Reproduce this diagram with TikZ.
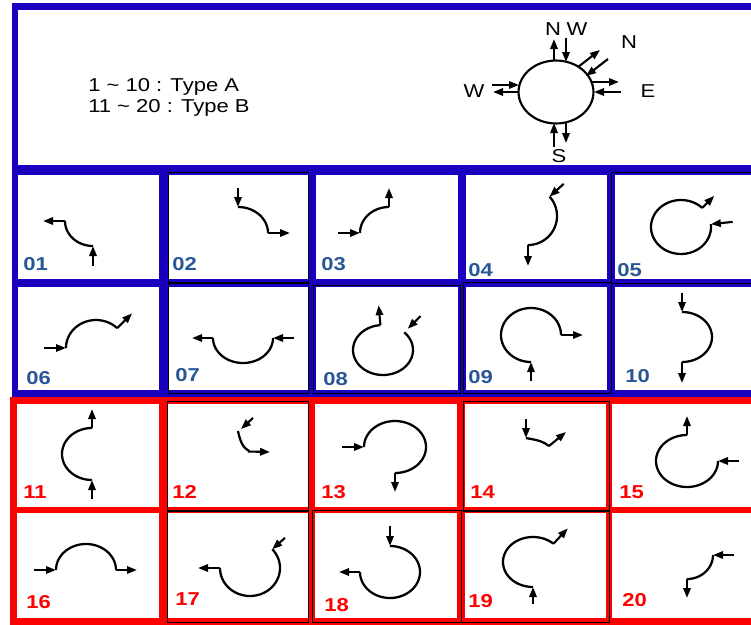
\documentclass[tikz,border=0pt]{standalone}
\usepackage{fontspec}
\setmainfont{Liberation Sans}[FakeStretch=1.18]
\usetikzlibrary{arrows.meta}
\definecolor{bordblue}{RGB}{24,0,190}
\definecolor{labblue}{RGB}{40,86,150}
\definecolor{labred}{RGB}{255,0,0}
\newcommand\glyph[9]{%
  \draw[garc] plot[domain=#5:#6, samples=60, smooth] ({#1+#3*cos(\x)},{#2+#4*sin(\x)});
  \draw[garrow] ({#1+(#3+#9+#7)*cos(#5)},{#2+(#4+#9+#7)*sin(#5)}) -- ({#1+(#3+#9)*cos(#5)},{#2+(#4+#9)*sin(#5)});
  \draw[garrow] ({#1+#3*cos(#6)},{#2+#4*sin(#6)}) -- ({#1+(#3+#8)*cos(#6)},{#2+(#4+#8)*sin(#6)});
}
\begin{document}
\begin{tikzpicture}[x=0.75pt,y=-0.75pt,
  garc/.style={line width=1.7pt},
  garrow/.style={line width=1.6pt,-{Triangle[length=7.5pt,width=5.5pt]}},
  numblue/.style={anchor=base west,inner sep=0pt,text=labblue,font=\bfseries\fontsize{14}{14}\selectfont},
  numred/.style={anchor=base west,inner sep=0pt,text=labred,font=\bfseries\fontsize{14}{14}\selectfont},
  hdr/.style={anchor=base west,inner sep=0pt,font=\fontsize{14}{14}\selectfont},
  cmp/.style={anchor=base,inner sep=0pt,font=\fontsize{14}{14}\selectfont},
  thinbox/.style={draw=black,line width=0.5pt}]
\useasboundingbox (0,0) rectangle (751,625);
% header frame
\fill[bordblue] (12,3) rectangle (751,175);
\fill[white] (18,10) rectangle (751,165);
% blue grid
\fill[bordblue] (12,165) rectangle (751,397);
\foreach \xa/\xb in {18/159,168/309,316/458,466/607,615/751}{
  \fill[white] (\xa,175) rectangle (\xb,279);
  \fill[white] (\xa,287) rectangle (\xb,390);
}
% red grid
\fill[labred] (10,397) rectangle (751,625);
\foreach \xa/\xb in {17/159,167/308,315/457,465/606,612/751}{
  \fill[white] (\xa,404) rectangle (\xb,507);
  \fill[white] (\xa,513) rectangle (\xb,618);
}
% thin black outlines
\draw[thinbox] (168,172) rectangle (308,282);
\draw[thinbox] (611,172) rectangle (760,283);
\draw[thinbox] (168,283) rectangle (308,393);
\draw[thinbox] (313,285) rectangle (460,393);
\draw[thinbox] (463,282) rectangle (611,393);
\draw[thinbox] (167,401) rectangle (308,511);
\draw[thinbox] (463,401) rectangle (609,511);
\draw[thinbox] (167,510) rectangle (308,622);
\draw[thinbox] (312,510) rectangle (461,622);
\draw[thinbox] (461,510) rectangle (609,622);
% header text
\node[hdr] (typeA) at (88,91) {1 \textasciitilde{} 10 : Type A};
\node[hdr] (typeB) at (88,112) {11 \textasciitilde{} 20 : Type B};
% compass
\draw[line width=1.6pt] (556,92) ellipse [x radius=28.1pt, y radius=23.6pt];
\draw[garrow] (554,61) -- (554,39);
\draw[garrow] (566,38) -- (566,62);
\draw[garrow] (578,67) -- (600,50);
\draw[garrow] (608,59) -- (586,76);
\draw[garrow] (592,82) -- (619,82);
\draw[garrow] (621,92) -- (594,92);
\draw[garrow] (492,85) -- (519,85);
\draw[garrow] (519,92) -- (493,92);
\draw[garrow] (554,147) -- (554,123);
\draw[garrow] (566,123) -- (566,143);
\node[cmp] (lN1) at (553,35) {N};
\node[cmp] (lW1) at (577,35) {W};
\node[cmp] (lN2) at (629,48) {N};
\node[cmp] (lE) at (648,97) {E};
\node[cmp] (lW2) at (474,97) {W};
\node[cmp] (lS) at (559,162) {S};
% glyphs
\glyph{93}{221}{28}{25}{90}{180}{20}{22}{0}
\glyph{238}{233}{30}{26}{-90}{0}{19}{22}{0}
\glyph{389}{233}{29}{26}{180}{270}{22}{19}{0}
\glyph{528}{216}{29}{29}{-42}{90}{19}{21}{0}
\glyph{681}{227}{30}{27}{-6}{315}{22}{17}{0}
\glyph{96}{348}{30}{28}{180}{315}{22}{21}{0}
\glyph{243}{338}{30}{25}{0}{180}{21}{21}{0}
\glyph{383}{350}{30}{25}{-45}{265}{18}{20}{5}
\glyph{531}{335}{30}{27}{90}{360}{19}{22}{0}
\glyph{682}{337}{30}{25}{-90}{90}{19}{21}{0}
\glyph{92}{454}{30}{26}{90}{270}{19}{19}{0}
% 12
\draw[garrow] (253,418) -- (241,429);
\draw[garc] (238,431) .. controls (240,441) and (243,448) .. (249,451);
\draw[garrow] (248,451.5) -- (270,452);
\glyph{395}{447}{31}{26}{180}{450}{22}{19}{0}
% 14
\draw[garrow] (526,419) -- (526,438);
\draw[garc] (526,438) -- (531,439) .. controls (538,440) and (544,442) .. (549,446);
\draw[garrow] (549,446) -- (566,432);
\glyph{687}{461}{31}{26}{0}{270}{21}{19}{0}
\glyph{86}{570}{30}{26}{180}{360}{22}{21}{0}
\glyph{250}{568}{30}{28}{-42}{180}{17}{22}{0}
\glyph{390}{572}{30}{26}{-90}{180}{20}{21}{0}
\glyph{533}{562}{30}{25}{90}{313}{17}{21}{0}
\glyph{687}{555}{26}{24}{0}{90}{21}{19}{0}
% numbers
\node[numblue] (n01) at (23,270) {01};
\node[numblue] (n02) at (172,270) {02};
\node[numblue] (n03) at (321,270) {03};
\node[numblue] (n04) at (468,276) {04};
\node[numblue] (n05) at (617,276) {05};
\node[numblue] (n06) at (26,384) {06};
\node[numblue] (n07) at (175,381) {07};
\node[numblue] (n08) at (323,385) {08};
\node[numblue] (n09) at (468,383) {09};
\node[numblue] (n10) at (625,382) {10};
\node[numred] (n11) at (23,498) {11};
\node[numred] (n12) at (172,498) {12};
\node[numred] (n13) at (321,498) {13};
\node[numred] (n14) at (470,498) {14};
\node[numred] (n15) at (619,498) {15};
\node[numred] (n16) at (26,608) {16};
\node[numred] (n17) at (175,605) {17};
\node[numred] (n18) at (324,611) {18};
\node[numred] (n19) at (468,607) {19};
\node[numred] (n20) at (622,606) {20};
\end{tikzpicture}
\end{document}
